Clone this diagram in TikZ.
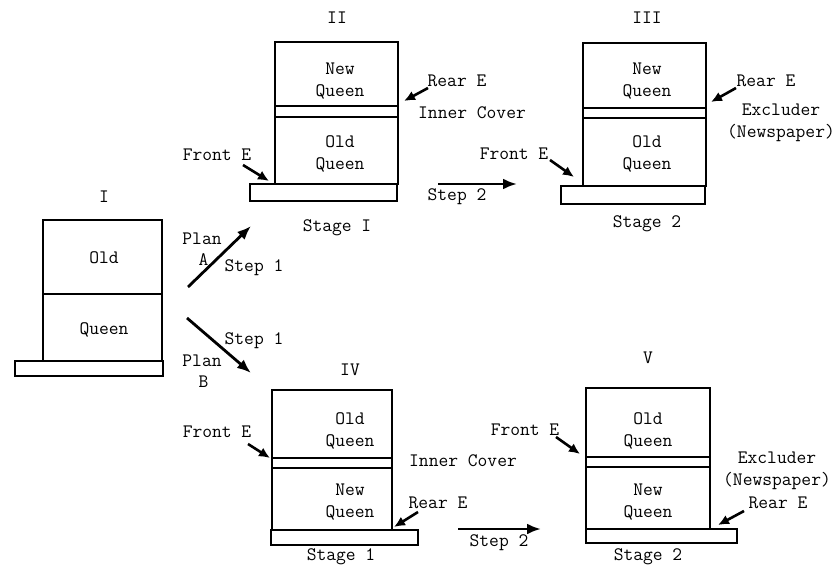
\documentclass[tikz,border=0pt]{standalone}
\usetikzlibrary{arrows.meta}
\begin{document}
\begin{tikzpicture}[x=1pt,y=-1pt,
  hive/.style={line width=2.8pt, line join=miter},
  lbl/.style={font=\fontsize{19}{21.5}\selectfont\ttfamily, inner sep=0pt, align=center},
  arr/.style={line width=2.8pt, -{Latex[length=14pt,width=11pt]}},
  earr/.style={line width=2.6pt, -{Latex[length=11pt,width=10pt]}}]
\useasboundingbox (0,0) rectangle (838,575);

% ---------- Hive I ----------
\draw[hive] (43,220) rectangle (162,361);
\draw[hive] (43,294) -- (162,294);
\draw[hive] (15,361) rectangle (163,376);
\node[lbl] (t1) at (104,197) {I};
\node[lbl] (i1) at (104,258) {Old};
\node[lbl] (i2) at (104,330) {Queen};

% ---------- Plan arrows ----------
\coordinate (pa0) at (188,287); \coordinate (pa1) at (251,226);
\coordinate (pb0) at (187,318); \coordinate (pb1) at (251,373);
\draw[arr] (pa0) -- (pa1);
\draw[arr] (pb0) -- (pb1);
\node[lbl] (planA) at (202,249) {Plan\\[-1pt]\,A};
\node[lbl] (s1a) at (254,268) {Step 1};
\node[lbl] (s1b) at (254,341) {Step 1};
\node[lbl] (planB) at (202,371) {Plan\\[-1pt]\,B};

% ---------- Hive II ----------
\draw[hive] (275,42) rectangle (398,106);
\draw[hive] (275,106) rectangle (398,117);
\draw[hive] (275,117) rectangle (398,184);
\draw[hive] (250,184) rectangle (397,201);
\node[lbl] (t2) at (337,18) {II};
\node[lbl] (ii1) at (340,81) {New\\Queen};
\node[lbl] (ii2) at (340,154) {Old\\Queen};
\node[lbl] (st2) at (337,228) {Stage I};
\node[lbl] (fe2) at (217,155) {Front E};
\coordinate (fe2a) at (243,165); \coordinate (fe2b) at (269,181);
\draw[earr] (fe2a) -- (fe2b);
\node[lbl] (re2) at (457,81) {Rear E};
\coordinate (re2a) at (428,88); \coordinate (re2b) at (404,101);
\draw[earr] (re2a) -- (re2b);
\node[lbl] (ic2) at (472,113) {Inner Cover};

% ---------- Step 2 upper ----------
\coordinate (sa0) at (438,184); \coordinate (sa1) at (517,184);
\draw[arr] (sa0) -- (sa1);
\node[lbl] (s2a) at (457,197) {Step 2};

% ---------- Hive III ----------
\draw[hive] (583,43) rectangle (706,108);
\draw[hive] (583,108) rectangle (706,118);
\draw[hive] (583,118) rectangle (706,186);
\draw[hive] (561,186) rectangle (705,204);
\node[lbl] (t3) at (647,18) {III};
\node[lbl] (iii1) at (647,81) {New\\Queen};
\node[lbl] (iii2) at (647,154) {Old\\Queen};
\node[lbl] (st3) at (647,224) {Stage 2};
\node[lbl] (fe3) at (514,154) {Front E};
\coordinate (fe3a) at (550,160); \coordinate (fe3b) at (574,177);
\draw[earr] (fe3a) -- (fe3b);
\node[lbl] (re3) at (766,81) {Rear E};
\coordinate (re3a) at (736,88); \coordinate (re3b) at (711,102);
\draw[earr] (re3a) -- (re3b);
\node[lbl] (ex3) at (781,123) {Excluder\\(Newspaper)};

% ---------- Hive IV ----------
\draw[hive] (272,390) rectangle (392,458);
\draw[hive] (272,458) rectangle (392,468);
\draw[hive] (272,468) rectangle (392,530);
\draw[hive] (271,530) rectangle (418,545);
\node[lbl] (t4) at (350,370) {IV};
\node[lbl] (iv1) at (350,431) {Old\\Queen};
\node[lbl] (iv2) at (350,502) {New\\Queen};
\node[lbl] (st4) at (341,557) {Stage 1};
\node[lbl] (fe4) at (217,432) {Front E};
\coordinate (fe4a) at (248,444); \coordinate (fe4b) at (270,458);
\draw[earr] (fe4a) -- (fe4b);
\node[lbl] (ic4) at (463,461) {Inner Cover};
\node[lbl] (re4) at (438,503) {Rear E};
\coordinate (re4a) at (418,512); \coordinate (re4b) at (394,527);
\draw[earr] (re4a) -- (re4b);

% ---------- Step 2 lower ----------
\coordinate (sb0) at (458,529); \coordinate (sb1) at (541,529);
\draw[arr] (sb0) -- (sb1);
\node[lbl] (s2b) at (499,543) {Step 2};

% ---------- Hive V ----------
\draw[hive] (586,388) rectangle (710,457);
\draw[hive] (586,457) rectangle (710,467);
\draw[hive] (586,467) rectangle (710,529);
\draw[hive] (586,529) rectangle (737,543);
\node[lbl] (t5) at (648,358) {V};
\node[lbl] (v1) at (648,431) {Old\\Queen};
\node[lbl] (v2) at (648,502) {New\\Queen};
\node[lbl] (st5) at (648,557) {Stage 2};
\node[lbl] (fe5) at (525,430) {Front E};
\coordinate (fe5a) at (556,437); \coordinate (fe5b) at (580,454);
\draw[earr] (fe5a) -- (fe5b);
\node[lbl] (ex5) at (777,471) {Excluder\\(Newspaper)};
\node[lbl] (re5) at (778,503) {Rear E};
\coordinate (re5a) at (744,511); \coordinate (re5b) at (718,525);
\draw[earr] (re5a) -- (re5b);
\end{tikzpicture}
\end{document}
